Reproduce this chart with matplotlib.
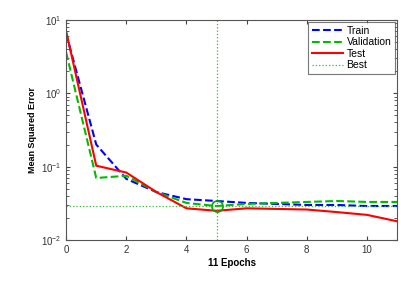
import numpy as np
import matplotlib.pyplot as plt

epochs = np.arange(0, 12)
train = [6.5, 0.2, 0.068, 0.045, 0.036, 0.034, 0.032, 0.031, 0.030, 0.030, 0.029, 0.029]
validation = [3.6, 0.07, 0.075, 0.045, 0.032, 0.029, 0.031, 0.032, 0.033, 0.034, 0.033, 0.033]
test = [7.0, 0.103, 0.083, 0.045, 0.027, 0.025, 0.027, 0.0265, 0.026, 0.024, 0.022, 0.018]
best_epoch = 5
best_val = 0.029

plt.rcParams['font.family'] = ['Liberation Sans', 'DejaVu Sans']

fig = plt.figure(figsize=(4.01, 2.85), dpi=100)
ax = fig.add_axes([0.165, 0.158, 0.825, 0.772])

ax.semilogy(epochs, train, color='#0000ff', ls='--', lw=1.5, label='Train')
ax.semilogy(epochs, validation, color='#00bb00', ls='--', lw=1.5, label='Validation')
ax.semilogy(epochs, test, color='#ff0000', ls='-', lw=1.5, label='Test')
ax.axvline(best_epoch, color='#33bb33', ls=':', lw=0.9, label='Best')
ax.axhline(best_val, color='#33bb33', ls=':', lw=0.9)
ax.plot(best_epoch, best_val, 'o', ms=8, mfc='none', mec='#00aa00', mew=1.2)

ax.set_xlim(0, 11)
ax.set_ylim(1e-2, 1e1)
ax.set_xticks([0, 2, 4, 6, 8, 10])
ax.tick_params(which='both', direction='in', top=True, right=True, labelsize=7,
               colors='#444444', labelcolor='#333333')
ax.tick_params(which='major', length=3)
ax.tick_params(which='minor', length=2)
for s in ax.spines.values():
    s.set_color('#555555')
    s.set_linewidth(0.8)

ax.set_xlabel('11 Epochs', fontsize=7, fontweight='bold', labelpad=2)
ax.set_ylabel('Mean Squared Error', fontsize=6.5, fontweight='bold', labelpad=3)

leg = ax.legend(loc='upper right', fontsize=7.5, frameon=True, fancybox=False,
                borderpad=0.35, labelspacing=0.15, handlelength=3.0, handletextpad=0.3,
                borderaxespad=0.2)
leg.get_frame().set_edgecolor('#555555')
leg.get_frame().set_linewidth(0.8)

fig.savefig('out.png', dpi=100)
